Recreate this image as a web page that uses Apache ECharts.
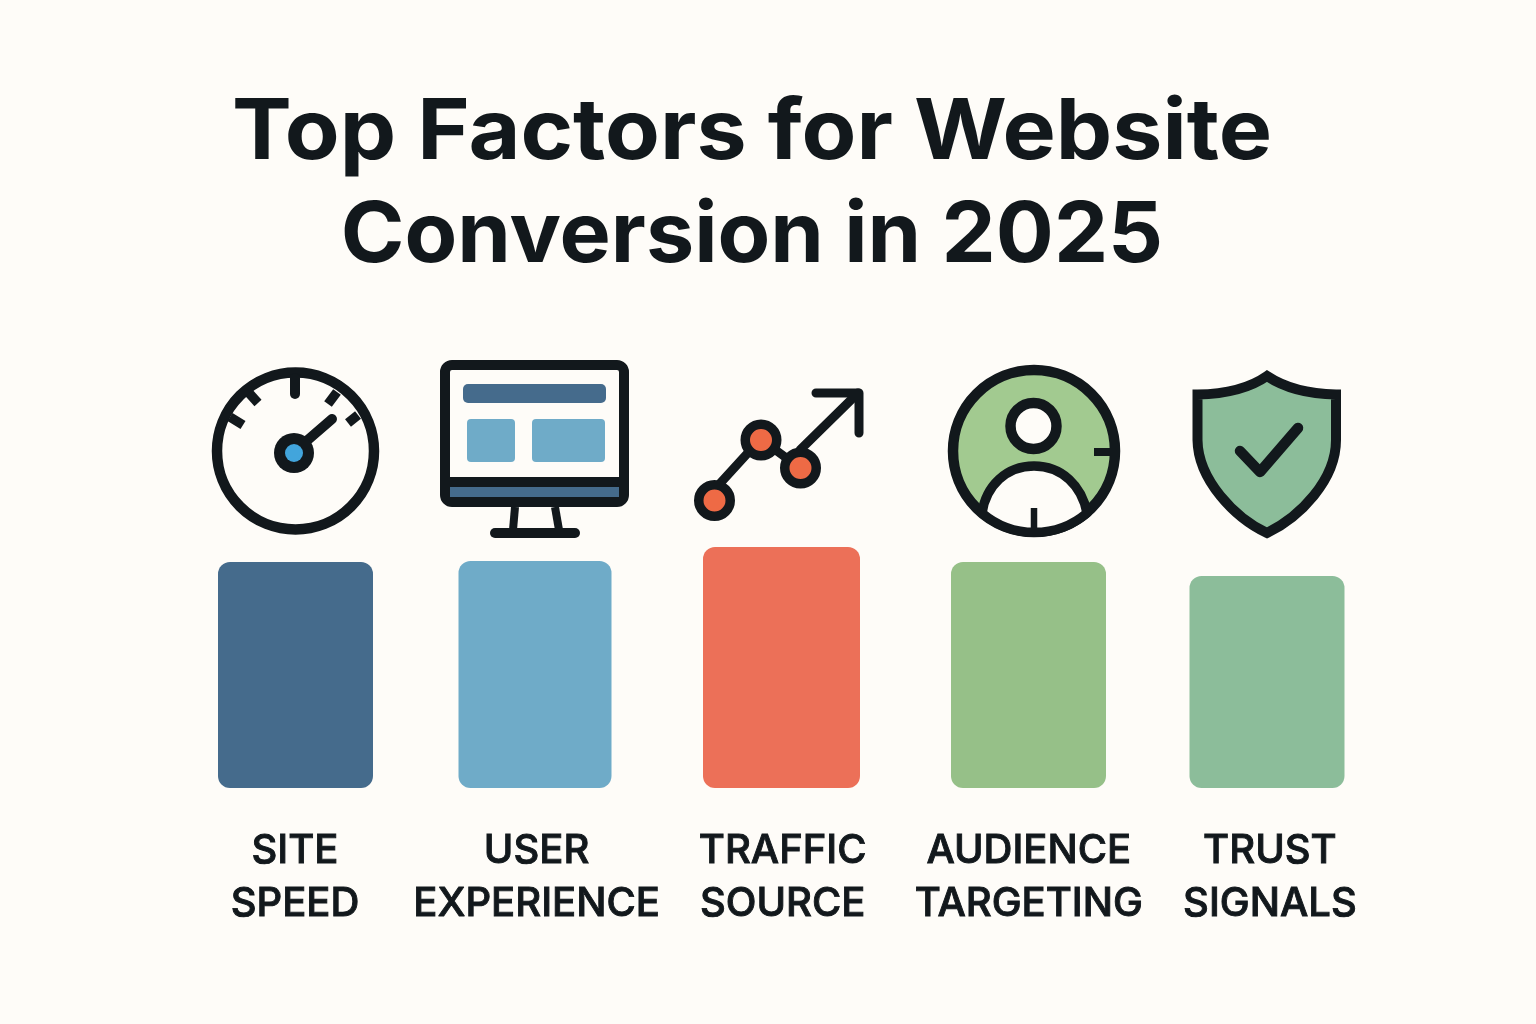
<!DOCTYPE html>
<html><head><meta charset="utf-8">
<style>html,body{margin:0;padding:0;background:#fefcf8}#c{width:1536px;height:1024px}</style>
<script src="https://cdn.jsdelivr.net/npm/echarts@6/dist/echarts.min.js"></script>
</head><body><div id="c"></div>
<script>
const titleLines = ['Top Factors for Website', 'Conversion in 2025'];
const categories = ['SITE\nSPEED', 'USER\nEXPERIENCE', 'TRAFFIC\nSOURCE', 'AUDIENCE\nTARGETING', 'TRUST\nSIGNALS'];
const values = [226, 227, 241, 226, 212];
const barColors = ['#456b8c', '#6fabc8', '#ec7058', '#96c088', '#8cbd9a'];

const INK = '#12181c', BG = '#fefcf8';
const barNudge = [0.5, -3.6, -0.7, 2.7, -2.4];
const barWidths = [155, 153, 157, 155, 155];
const labelNudge = [0, -2, 0.5, 3, 0.5];

const stroke = (lw, fill) => ({ stroke: INK, lineWidth: lw, fill: fill || 'none', lineCap: 'round', lineJoin: 'round' });
const circle = (cx, cy, r, lw, fill) => ({ type: 'circle', shape: { cx, cy, r }, style: stroke(lw, fill) });
const line = (x1, y1, x2, y2, lw, cap) => ({ type: 'line', shape: { x1, y1, x2, y2 }, style: Object.assign(stroke(lw), { lineCap: cap || 'round' }) });
const box = (x, y, width, height, r, fill) => ({ type: 'rect', shape: { x, y, width, height, r }, style: { fill } });
const path = (d, lw, fill, join) => ({ type: 'path', shape: { pathData: d }, style: Object.assign(stroke(lw, fill), { lineJoin: join || 'round' }) });

const icons = [
  // gauge
  circle(295.5, 451, 78.5, 10.5, BG),
  line(295, 378, 295, 394, 10), line(249, 393, 258, 403, 9.5, 'butt'), line(230, 417, 243, 425, 9.5, 'butt'),
  line(337, 392, 328, 404, 9.5, 'butt'), line(358, 415, 348, 423, 9.5, 'butt'),
  line(295, 451, 332, 419, 10),
  { type: 'circle', shape: { cx: 294, cy: 453, r: 20 }, style: { fill: INK } },
  { type: 'circle', shape: { cx: 294, cy: 453, r: 9 }, style: { fill: '#42a5dc' } },
  // monitor
  { type: 'rect', shape: { x: 445, y: 365, width: 179, height: 137, r: 7 }, style: stroke(10, BG) },
  line(445, 482, 624, 482, 10, 'butt'),
  box(450, 487, 169, 10, 0, '#456b8c'),
  box(463, 384, 143, 19, 5, '#456b8c'),
  box(467, 419, 48, 43, 4, '#6fabc8'),
  box(532, 419, 73, 43, 4, '#6fabc8'),
  line(515, 507, 513, 530, 8, 'butt'), line(555, 507, 559, 530, 8, 'butt'),
  line(495, 533, 575, 533, 10),
  // traffic
  line(714, 490, 756, 444, 9), line(762, 440, 800, 468, 9), line(800, 450, 858, 393, 9),
  path('M816 393 L859 393 L859 433', 9),
  circle(714.5, 500.5, 15.75, 9.5, '#ee6a45'), circle(761, 440, 15.75, 9.5, '#ee6a45'), circle(800.5, 468, 15.75, 9.5, '#ee6a45'),
  // audience
  circle(1034, 451, 81, 10.5, '#a2ca90'),
  circle(1033.5, 426, 23, 10.5, BG),
  path('M982 513 C986 486 1006 466 1034 466 C1062 466 1082 486 1087 513 A81 81 0 0 1 982 513 Z', 9.5, BG),
  line(1034, 508, 1034, 528, 6.5, 'butt'),
  line(1094, 452, 1112, 452, 8, 'butt'),
  // shield
  path('M1267 376 C1250 388 1225 394 1197.5 394.5 L1197.5 440 C1198 480 1235 518 1267 533 C1300 517 1336 480 1336 440 L1336 394.5 C1310 394 1285 388 1267 376 Z', 10, '#8cbd9a', 'miter'),
  path('M1240 451 L1260 472 L1298 428', 10.5)
];

const titleSpec = [
  { y: 134, scaleX: 1.066 },
  { y: 236.5, scaleX: 1.025 }
];

const labelRich = {};
labelNudge.forEach((n, i) => {
  labelRich['c' + i] = {
    color: INK, fontFamily: 'Inter', fontSize: 40, fontWeight: 500, lineHeight: 53,
    textBorderColor: INK, textBorderWidth: 0.9,
    padding: n >= 0 ? [0, 0, 0, 2 * n] : [0, -2 * n, 0, 0]
  };
});

const chart = echarts.init(document.getElementById('c'), null, { renderer: 'canvas' });
chart.setOption({
  backgroundColor: BG,
  animation: false,
  graphic: {
    elements: titleLines.map((t, i) => ({
      type: 'text', x: 752, y: titleSpec[i].y, scaleX: titleSpec[i].scaleX,
      style: {
        text: t, fill: INK, font: '700 84px Inter', textAlign: 'center', textVerticalAlign: 'middle'
      }
    }))
  },
  grid: { left: 173.2, width: 1218, top: 488, height: 300 },
  xAxis: {
    type: 'category', data: categories,
    axisLine: { show: false }, axisTick: { show: false },
    axisLabel: {
      interval: 0, margin: 36, align: 'center', verticalAlign: 'top', rich: labelRich,
      formatter: (v, i) => v.split('\n').map(s => '{c' + i + '|' + s + '}').join('\n')
    }
  },
  yAxis: { type: 'value', min: 0, max: 300, show: false, splitLine: { show: false } },
  series: [{
    type: 'custom',
    data: values,
    encode: { x: 0, y: 1 },
    renderItem: function (params, api) {
      const i = api.value(0);
      const top = api.coord([i, api.value(1)]);
      const base = api.coord([i, 0]);
      const w = barWidths[i];
      return {
        type: 'rect',
        shape: { x: top[0] + barNudge[i] - w / 2, y: top[1], width: w, height: base[1] - top[1], r: 12 },
        style: { fill: barColors[i] }
      };
    }
  }, {
    type: 'custom',
    coordinateSystem: 'none',
    silent: true,
    data: [0],
    renderItem: function () {
      return { type: 'group', children: icons };
    }
  }]
});
</script></body></html>
